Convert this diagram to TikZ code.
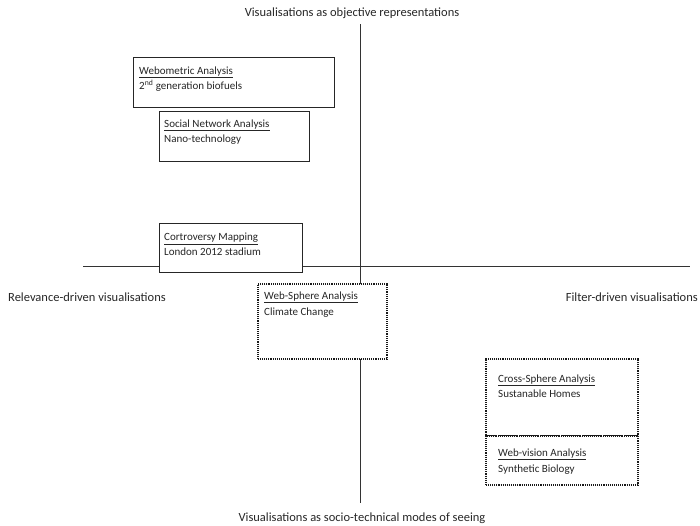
\documentclass[tikz,border=0pt]{standalone}
\usepackage{fontspec}
\setmainfont{Carlito}
\begin{document}
\begin{tikzpicture}[x=1pt,y=-1pt,
  solidbox/.style={draw=black!85, line width=0.9pt, fill=white, rectangle, inner sep=0pt, anchor=north west},
  dotbox/.style={draw=black!90, line width=1.6pt, dash pattern=on 1.1pt off 1pt, fill=white, rectangle, inner sep=0pt, anchor=north west},
  lbl/.style={anchor=base west, inner sep=0pt, font=\fontsize{11}{13}\selectfont, text=black!85},
  axislbl/.style={anchor=base, inner sep=0pt, font=\fontsize{12.5}{15}\selectfont, text=black!85},
  axisline/.style={draw=black!80, line width=0.9pt}]
\useasboundingbox (0,0) rectangle (700,525);
% axes
\coordinate (vtop) at (360,24);
\coordinate (vbot) at (360,503);
\coordinate (hleft) at (83,266);
\coordinate (hright) at (690,266);
\draw[axisline] (vtop) -- (vbot);
\draw[axisline] (hleft) -- (hright);
% axis labels
\node[axislbl] (ltop) at (352,16) {Visualisations as objective representations};
\node[axislbl] (lbot) at (362,521) {Visualisations as socio-technical modes of seeing};
\node[axislbl, anchor=base west] (lleft) at (8,301) {Relevance-driven visualisations};
\node[axislbl, anchor=base east] (lright) at (698,301) {Filter-driven visualisations};
% boxes
\node[solidbox, minimum width=201pt, minimum height=50pt] (bweb) at (133,57) {};
\node[lbl] (bweb1) at (139,74.5) {\underline{Webometric Analysis}};
\node[lbl] (bweb2) at (139,89.5) {2\textsuperscript{nd} generation biofuels};
\node[solidbox, minimum width=150pt, minimum height=50pt] (bsna) at (159,111) {};
\node[lbl] (bsna1) at (164,127.5) {\underline{Social Network Analysis}};
\node[lbl] (bsna2) at (164,142.5) {Nano-technology};
\node[solidbox, minimum width=143pt, minimum height=49pt] (bcon) at (159,223) {};
\node[lbl] (bcon1) at (164,240.5) {\underline{Cortroversy Mapping}};
\node[lbl] (bcon2) at (164,255.5) {London 2012 stadium};
\node[dotbox, minimum width=129pt, minimum height=75pt] (bwsa) at (257,283) {};
\node[lbl] (bwsa1) at (264,299.5) {\underline{Web-Sphere Analysis}};
\node[lbl] (bwsa2) at (264,315.5) {Climate Change};
\node[dotbox, minimum width=152pt, minimum height=77pt] (bcsa) at (485,358) {};
\node[lbl] (bcsa1) at (498,382.5) {\underline{Cross-Sphere Analysis}};
\node[lbl] (bcsa2) at (498,397.5) {Sustanable Homes};
\node[dotbox, minimum width=152pt, minimum height=49pt] (bwva) at (485,435) {};
\node[lbl] (bwva1) at (498,456.5) {\underline{Web-vision Analysis}};
\node[lbl] (bwva2) at (498,472.5) {Synthetic Biology};
\end{tikzpicture}
\end{document}
